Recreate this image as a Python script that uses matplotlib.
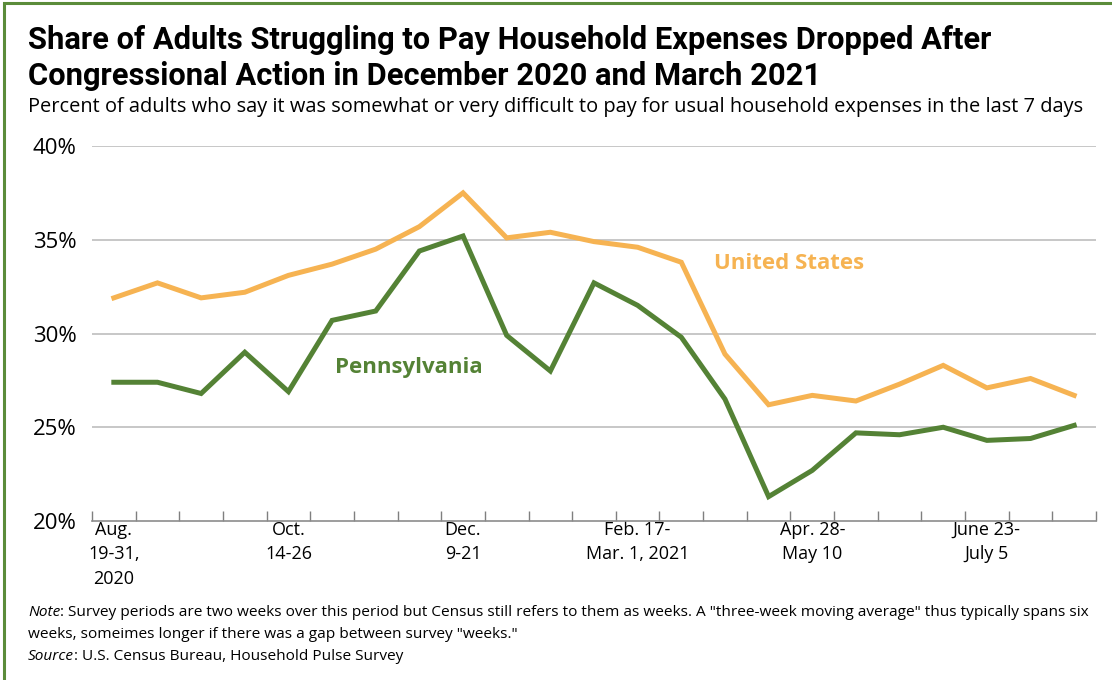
import numpy as np
import matplotlib
matplotlib.use("Agg")
import matplotlib.pyplot as plt
from matplotlib.patches import Rectangle

# --- data ---
us_vals = [31.9, 32.7, 31.9, 32.2, 33.1, 33.7, 34.5, 35.7, 37.5, 35.1, 35.4, 34.9,
           34.6, 33.8, 28.9, 26.2, 26.7, 26.4, 27.3, 28.3, 27.1, 27.6, 26.7]
pa_vals = [27.4, 27.4, 26.8, 29.0, 26.9, 30.7, 31.2, 34.4, 35.2, 29.9, 28.0, 32.7,
           31.5, 29.8, 26.5, 21.3, 22.7, 24.7, 24.6, 25.0, 24.3, 24.4, 25.1]
tick_pos = [0, 4, 8, 12, 16, 20]
tick_labels = ["Aug.\n19-31,\n2020", "Oct.\n14-26", "Dec.\n9-21",
               "Feb. 17-\nMar. 1, 2021", "Apr. 28-\nMay 10", "June 23-\nJuly 5"]
y_ticks = [20, 25, 30, 35, 40]

US_COL = "#F6B352"
PA_COL = "#548235"
BORDER = "#5B8C3A"

plt.rcParams['font.family'] = ['Open Sans', 'DejaVu Sans']

fig = plt.figure(figsize=(11.12, 6.8), dpi=100)
ax = fig.add_axes([92/1112, 1-521/680, (1096-92)/1112, (521-146)/680])

x = np.arange(len(us_vals))
ax.plot(x, us_vals, color=US_COL, lw=3.6, solid_joinstyle='miter')
ax.plot(x, pa_vals, color=PA_COL, lw=3.6, solid_joinstyle='miter')

ax.set_xlim(-0.5, len(us_vals) - 0.5)
ax.set_ylim(20, 40)
for yv in y_ticks[1:]:
    ax.axhline(yv, color="#bdbdbd", lw=1.2, zorder=0)

ax.set_yticks(y_ticks)
ax.set_yticklabels([f"{v}%" for v in y_ticks], fontsize=16)
ax.tick_params(axis='y', length=0, pad=11)

ax.set_xticks(np.arange(-0.5, len(us_vals)), minor=True)
ax.set_xticks(tick_pos)
ax.set_xticklabels(tick_labels, fontsize=13, linespacing=1.45, va='top')
ax.tick_params(axis='x', which='major', length=0, pad=0)
ax.tick_params(axis='x', which='minor', direction='in', length=7, color="#7f7f7f", width=1)

for s in ['top', 'right', 'left']:
    ax.spines[s].set_visible(False)
ax.spines['bottom'].set_color("#8c8c8c")
ax.spines['bottom'].set_linewidth(1.2)

ax.text(15.47, 33.75, "United States", color=US_COL, fontsize=16, fontweight='bold', ha='center', va='center')
ax.text(6.76, 28.2, "Pennsylvania", color=PA_COL, fontsize=16, fontweight='bold', ha='center', va='center')

# titles
title_font = ['Roboto', 'DejaVu Sans']
fig.text(28/1112, 1-40/680, "Share of Adults Struggling to Pay Household Expenses Dropped After",
         fontsize=22.2, fontweight='bold', family=title_font, va='center', ha='left')
fig.text(28/1112, 1-76/680, "Congressional Action in December 2020 and March 2021",
         fontsize=22.2, fontweight='bold', family=title_font, va='center', ha='left')
fig.text(28/1112, 1-107/680,
         "Percent of adults who say it was somewhat or very difficult to pay for usual household expenses in the last 7 days",
         fontsize=14.4, va='center', ha='left')

# notes: italic lead word followed by plain text
renderer = fig.canvas.get_renderer()
note_fs = 11.1


def lead_line(y_px, lead, rest):
    t = fig.text(28/1112, 1-y_px/680, lead, fontsize=note_fs, style='italic', va='center', ha='left')
    bb = t.get_window_extent(renderer=renderer)
    fig.text(bb.x1/1112, 1-y_px/680, rest, fontsize=note_fs, va='center', ha='left')


lead_line(613, "Note", ": Survey periods are two weeks over this period but Census still refers to them as weeks. A \"three-week moving average\" thus typically spans six")
fig.text(28/1112, 1-635/680, "weeks, someimes longer if there was a gap between survey \"weeks.\"",
         fontsize=note_fs, va='center', ha='left')
lead_line(657, "Source", ": U.S. Census Bureau, Household Pulse Survey")

# frame
fig.patches.append(Rectangle((4/1112, -0.05), 1.2, 1-3/680 + 0.05, transform=fig.transFigure,
                             fill=False, edgecolor=BORDER, lw=2.2))

fig.savefig("out.png", dpi=100, facecolor='white')
